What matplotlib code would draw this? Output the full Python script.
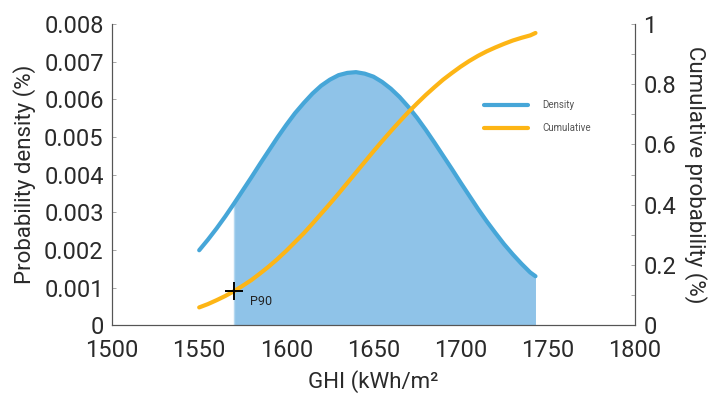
import matplotlib
matplotlib.use('Agg')
import matplotlib.pyplot as plt

plt.rcParams['font.family'] = ['Roboto', 'DejaVu Sans']

ghi = [1550, 1555, 1560, 1565, 1570, 1575, 1580, 1585, 1590, 1595,
       1600, 1605, 1610, 1615, 1620, 1625, 1630, 1635, 1640, 1645,
       1650, 1655, 1660, 1665, 1670, 1675, 1680, 1685, 1690, 1695,
       1700, 1705, 1710, 1715, 1720, 1725, 1730, 1735, 1740, 1743]
density = [0.00199, 0.00227, 0.00257, 0.00289, 0.00323, 0.00358, 0.00393, 0.00429, 0.00464, 0.00499,
           0.00532, 0.00563, 0.00590, 0.00615, 0.00636, 0.00652, 0.00664, 0.00670, 0.00672, 0.00668,
           0.00660, 0.00646, 0.00628, 0.00606, 0.00580, 0.00551, 0.00519, 0.00485, 0.00450, 0.00415,
           0.00379, 0.00344, 0.00309, 0.00276, 0.00245, 0.00215, 0.00188, 0.00163, 0.00140, 0.00130]
cumulative = [0.059, 0.070, 0.083, 0.097, 0.113, 0.131, 0.150, 0.172, 0.195, 0.220,
              0.247, 0.276, 0.305, 0.337, 0.370, 0.403, 0.437, 0.472, 0.507, 0.542,
              0.577, 0.611, 0.644, 0.676, 0.707, 0.736, 0.764, 0.790, 0.815, 0.837,
              0.858, 0.877, 0.894, 0.909, 0.922, 0.934, 0.945, 0.954, 0.962, 0.970]
p90_x = 1570
p90_y = 0.113

xticks = [1500, 1550, 1600, 1650, 1700, 1750, 1800]
left_ticks = [0, 0.001, 0.002, 0.003, 0.004, 0.005, 0.006, 0.007, 0.008]
left_labels = ['0', '0.001', '0.002', '0.003', '0.004', '0.005', '0.006', '0.007', '0.008']
right_ticks = [0, 0.2, 0.4, 0.6, 0.8, 1]
right_labels = ['0', '0.2', '0.4', '0.6', '0.8', '1']

blue = '#46a6d8'
fill_blue = '#8fc3e8'
orange = '#fdb515'
txt = '#2a2a2a'

fig = plt.figure(figsize=(7.23, 3.99), dpi=100)
ax = fig.add_axes([0.155, 0.185, 0.723, 0.755])
ax2 = ax.twinx()

# shaded area from P90 upward
fx = [x for x in ghi if x >= p90_x]
fy = [d for x, d in zip(ghi, density) if x >= p90_x]
ax.fill_between(fx, 0, fy, color=fill_blue, lw=0)
ax.plot([p90_x, p90_x], [0, fy[0]], color='#b5d8f0', lw=1)
l1, = ax.plot(ghi, density, color=blue, lw=3, solid_capstyle='round', label='Density')
l2, = ax2.plot(ghi, cumulative, color=orange, lw=3, solid_capstyle='round', label='Cumulative')

ax2.plot(p90_x, p90_y, marker='+', color='black', ms=13, mew=1.4)
ax2.text(p90_x + 9, p90_y - 0.012, 'P90', fontsize=9, color='#222222', va='top')

ax.set_xlim(1500, 1800)
ax.set_ylim(0, 0.008)
ax2.set_ylim(0, 1)

ax.set_xticks(xticks)
ax.set_xticklabels([str(x) for x in xticks])
ax.set_yticks(left_ticks)
ax.set_yticklabels(left_labels)
ax2.set_yticks(right_ticks)
ax2.set_yticklabels(right_labels)
ax2.set_yticks([0.1, 0.3, 0.5, 0.7, 0.9], minor=True)

for a in (ax, ax2):
    a.spines['top'].set_visible(False)
    for s in a.spines.values():
        s.set_color('#555555')
        s.set_linewidth(0.8)
ax.tick_params(axis='x', length=0, pad=10, labelsize=17, colors=txt)
ax.tick_params(axis='y', direction='in', length=3, width=0.6, color='#999999',
               labelsize=17, labelcolor=txt, pad=6)
ax2.tick_params(axis='y', which='both', direction='in', length=3, width=0.6, color='#999999',
                labelsize=17, labelcolor=txt, pad=6)

ax.set_xlabel('GHI (kWh/m²', fontsize=16, color=txt, labelpad=6)
ax.set_ylabel('Probability density (%)', fontsize=16, color=txt, labelpad=6)
ax2.set_ylabel('Cumulative probability (%)', fontsize=16, color=txt, rotation=-90,
               labelpad=22)

leg = ax2.legend(handles=[l1, l2], loc='upper left', bbox_to_anchor=(0.695, 0.775),
                 frameon=False, fontsize=7, handlelength=4.5, handletextpad=1.5,
                 labelspacing=1.3)
for t in leg.get_texts():
    t.set_color('#555555')

fig.savefig('out.png', dpi=100)
